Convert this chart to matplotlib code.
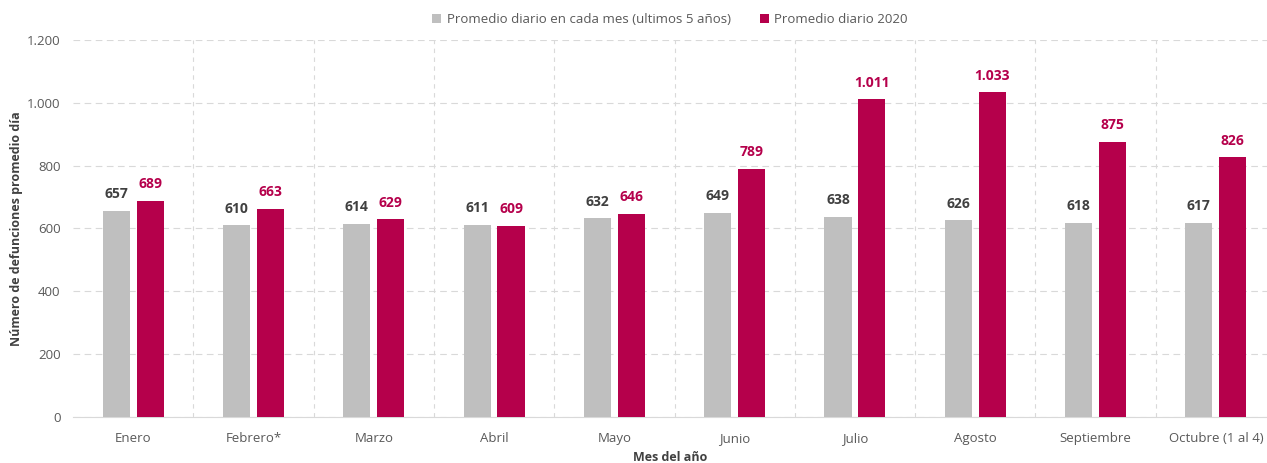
import matplotlib
matplotlib.use("Agg")
import matplotlib.pyplot as plt
import numpy as np
from matplotlib.ticker import FuncFormatter

meses = ["Enero", "Febrero*", "Marzo", "Abril", "Mayo", "Junio", "Julio",
         "Agosto", "Septiembre", "Octubre (1 al 4)"]
prom_5_anios = [657, 610, 614, 611, 632, 649, 638, 626, 618, 617]
prom_2020 = [689, 663, 629, 609, 646, 789, 1011, 1033, 875, 826]

GRIS = "#BFBFBF"
ROJO = "#B5004B"
TEXTO = "#595959"

plt.rcParams["font.family"] = ["Open Sans", "DejaVu Sans"]

fig = plt.figure(figsize=(12.67, 4.63), dpi=100)
ax = fig.add_axes([73 / 1267, 1 - 417 / 463, (1267 - 73) / 1267, (417 - 40) / 463])

x = np.arange(len(meses))
w = 0.225
off = 0.141
b1 = ax.bar(x - off, prom_5_anios, w, color=GRIS, label="Promedio diario en cada mes (ultimos 5 años)", zorder=3)
b2 = ax.bar(x + off, prom_2020, w, color=ROJO, label="Promedio diario 2020", zorder=3)

fmt = lambda v: f"{int(v):,}".replace(",", ".")
for rect, v in zip(b1, prom_5_anios):
    ax.annotate(fmt(v), (rect.get_x() + rect.get_width() / 2, v), xytext=(0, 7),
                textcoords="offset points", ha="center", va="bottom",
                fontsize=10, fontweight="bold", color="#404040")
for rect, v in zip(b2, prom_2020):
    ax.annotate(fmt(v), (rect.get_x() + rect.get_width() / 2, v), xytext=(0, 7),
                textcoords="offset points", ha="center", va="bottom",
                fontsize=10, fontweight="bold", color=ROJO)

ax.set_ylim(0, 1200)
ax.set_yticks(range(0, 1201, 200))
ax.yaxis.set_major_formatter(FuncFormatter(lambda v, p: fmt(v)))
ax.set_xlim(-0.5, 9.5 - 9 / 120.3)
ax.set_xticks(x)
ax.set_xticklabels(meses)
ax.tick_params(axis="both", length=0, labelsize=9.5, labelcolor=TEXTO)
ax.tick_params(axis="x", pad=11)
ax.tick_params(axis="y", pad=9)

ax.grid(axis="y", color="#D9D9D9", linestyle=(0, (6, 4)), linewidth=0.8, zorder=0)
for xb in np.arange(0.5, len(meses) - 0.5, 1.0):
    ax.axvline(xb, color="#D9D9D9", linestyle=(0, (4, 4)), linewidth=0.8, zorder=0)

for s in ["top", "right", "left"]:
    ax.spines[s].set_visible(False)
ax.spines["bottom"].set_color("#D9D9D9")

ax.set_ylabel("Número de defunciones promedio día", fontsize=9, fontweight="bold", color="#404040")
ax.yaxis.set_label_coords(-50 / 1194, 0.5)
ax.set_xlabel("Mes del año", fontsize=9, fontweight="bold", color="#404040", labelpad=4)

leg = ax.legend(loc="lower center", bbox_to_anchor=(0.5, 1.005), ncol=2, frameon=False,
                fontsize=9.5, handlelength=0.7, handleheight=0.7, columnspacing=2.2,
                handletextpad=0.4)
for t in leg.get_texts():
    t.set_color(TEXTO)

fig.savefig("out.png", dpi=100)
